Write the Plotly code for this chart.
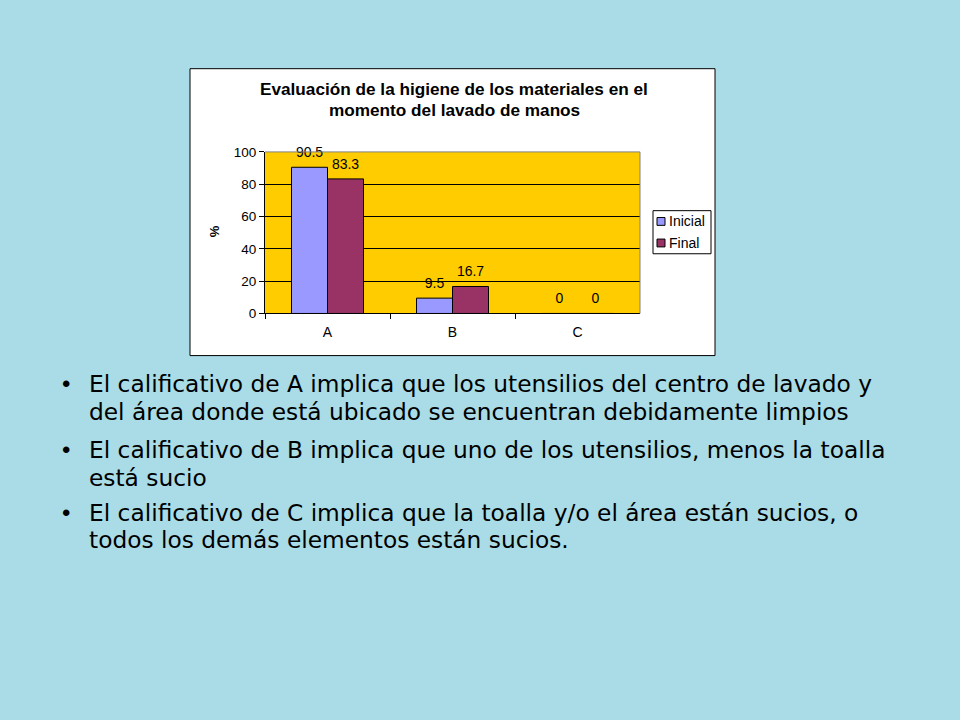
import plotly.graph_objects as go

# ---------------- data ----------------
categories = ["A", "B", "C"]
series_names = ["Inicial", "Final"]
inicial = [90.5, 9.5, 0]
final = [83.3, 16.7, 0]
series_values = [inicial, final]
series_colors = ["#9999FF", "#993366"]
y_ticks = [0, 20, 40, 60, 80, 100]
title_lines = ["Evaluación de la higiene de los materiales en el",
               "momento del lavado de manos"]
y_title = "%"
bullets = [
    ["El calificativo de A implica que los utensilios del centro de lavado y",
     "del área donde está ubicado se encuentran debidamente limpios"],
    ["El calificativo de B implica que uno de los utensilios, menos la toalla",
     "está sucio"],
    ["El calificativo de C implica que la toalla y/o el área están sucios, o",
     "todos los demás elementos están sucios."],
]

# ---------------- layout helpers ----------------
W, H = 960, 720
def px(x):
    return x / W
def py(y):
    return 1 - y / H

FONT = "Liberation Sans, Arial, sans-serif"
BODY_FONT = "DejaVu Sans, Liberation Sans, sans-serif"
BG = "#A9DCE6"
GAP = 0.424

plot_x0, plot_x1 = 265, 640
plot_y0, plot_y1 = 148, 313

fig = go.Figure()
for name, vals, col in zip(series_names, series_values, series_colors):
    fig.add_trace(go.Bar(
        x=categories, y=vals, name=name, offsetgroup=name,
        marker=dict(color=col, line=dict(color="black", width=1)),
        showlegend=False, hoverinfo="skip",
    ))
# value labels (grouped text points above each bar)
for name, vals in zip(series_names, series_values):
    fig.add_trace(go.Scatter(
        x=categories, y=vals, name=name, offsetgroup=name,
        mode="markers+text", marker=dict(size=9, opacity=0),
        text=[f"{v:g}" for v in vals], textposition="top center",
        textfont=dict(family=FONT, size=14, color="black"),
        cliponaxis=False, showlegend=False, hoverinfo="skip",
    ))

shapes = [
    # chart box
    dict(type="rect", xref="paper", yref="paper", layer="below",
         x0=px(190), x1=px(715), y0=py(356), y1=py(63),
         fillcolor="white", line=dict(color="black", width=1)),
    # plot area fill
    dict(type="rect", xref="x domain", yref="y domain", layer="below",
         x0=0, x1=1, y0=0, y1=1, fillcolor="#FFCC00", line=dict(width=0)),
    # plot area border (top / right)
    dict(type="line", xref="paper", yref="paper", layer="above",
         x0=px(plot_x0), x1=px(plot_x1), y0=py(plot_y0), y1=py(plot_y0),
         line=dict(color="#808080", width=1)),
    dict(type="line", xref="paper", yref="paper", layer="above",
         x0=px(plot_x1), x1=px(plot_x1), y0=py(plot_y0), y1=py(plot_y1),
         line=dict(color="#808080", width=1)),
    # legend box
    dict(type="rect", xref="paper", yref="paper", layer="above",
         x0=px(653), x1=px(711), y0=py(252), y1=py(208),
         fillcolor="white", line=dict(color="black", width=1)),
]
annotations = []
# legend entries
for i, (name, col) in enumerate(zip(series_names, series_colors)):
    yc = 219 + i * 22
    shapes.append(dict(type="rect", xref="paper", yref="paper", layer="above",
                       x0=px(657), x1=px(665), y0=py(yc + 4), y1=py(yc - 4),
                       fillcolor=col, line=dict(color="black", width=1)))
    annotations.append(dict(text=name, xref="paper", yref="paper",
                            x=px(667), y=py(yc), xanchor="left", yanchor="middle",
                            showarrow=False,
                            font=dict(family=FONT, size=14, color="black")))

# title lines
for i, line in enumerate(title_lines):
    annotations.append(dict(text=f"<b>{line}</b>", xref="paper", yref="paper",
                            x=px(454), y=py(84 + i * 21), xanchor="center",
                            yanchor="middle", showarrow=False,
                            font=dict(family=FONT, size=17.2, color="black")))
# y axis title
annotations.append(dict(text=f"<b>{y_title}</b>", xref="paper", yref="paper",
                        x=px(214), y=py(229), xanchor="center", yanchor="middle",
                        textangle=-90, showarrow=False,
                        font=dict(family=FONT, size=13, color="black")))

# bullet text
line_centers = [[385, 413], [452, 480], [516, 544]]
for para, ys in zip(bullets, line_centers):
    annotations.append(dict(text="•", xref="paper", yref="paper",
                            x=px(60), y=py(ys[0]), xanchor="left", yanchor="middle",
                            showarrow=False,
                            font=dict(family=FONT, size=24, color="black")))
    for line, yc in zip(para, ys):
        annotations.append(dict(text=line, xref="paper", yref="paper",
                                x=px(87), y=py(yc), xanchor="left", yanchor="middle",
                                showarrow=False,
                                font=dict(family=BODY_FONT, size=23.3, color="black")))

fig.update_layout(
    width=W, height=H,
    margin=dict(l=0, r=0, t=0, b=0),
    paper_bgcolor=BG, plot_bgcolor="rgba(0,0,0,0)",
    barmode="group", bargap=GAP, bargroupgap=0,
    scattermode="group", scattergap=GAP,
    showlegend=False, hovermode=False,
    shapes=shapes, annotations=annotations,
    xaxis=dict(domain=[px(plot_x0), px(plot_x1)], type="category",
               showline=True, linecolor="black", linewidth=1,
               ticks="outside", ticklen=5, tickcolor="black", tickson="boundaries",
               ticklabelstandoff=6,
               tickfont=dict(family=FONT, size=14, color="black"),
               showgrid=False, fixedrange=True),
    yaxis=dict(domain=[py(plot_y1), py(plot_y0)], range=[0, 100],
               tickvals=y_ticks, showline=True, linecolor="black", linewidth=1,
               ticks="outside", ticklen=5, tickcolor="black",
               tickfont=dict(family=FONT, size=13.5, color="black"),
               showgrid=True, gridcolor="black", gridwidth=1,
               zeroline=False, fixedrange=True),
)

fig.write_html("out.html", config={"displayModeBar": False},
               post_script="document.body.style.margin='0';")
